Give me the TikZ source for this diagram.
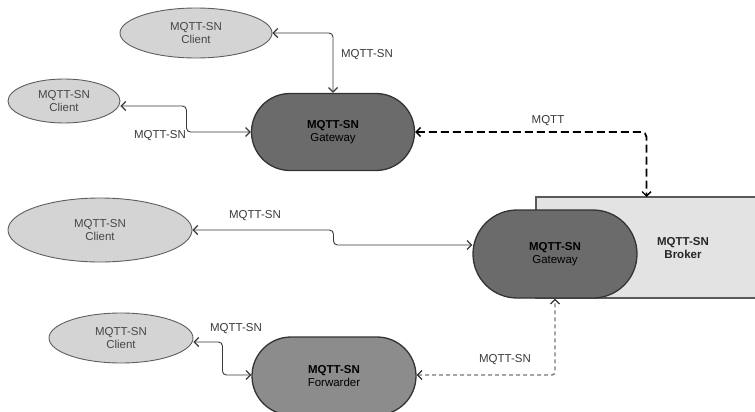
\documentclass[tikz,border=0pt]{standalone}
\usepackage{fontspec}
\setmainfont{Liberation Sans}
\usetikzlibrary{shapes.geometric,shapes.misc,arrows.meta}
\definecolor{clientfill}{HTML}{D4D4D4}
\definecolor{clientline}{HTML}{5E5E5E}
\definecolor{gwfill}{HTML}{6B6B6B}
\definecolor{fwfill}{HTML}{8C8C8C}
\definecolor{darkline}{HTML}{333333}
\definecolor{brokerfill}{HTML}{E3E3E3}
\definecolor{brokerline}{HTML}{5A5A5A}
\definecolor{labeltext}{HTML}{3A3A3A}
\definecolor{connline}{HTML}{3A3A3A}
\definecolor{dotline}{HTML}{777777}
\tikzset{
  opentip/.tip={Straight Barb[length=4.5pt,width=9pt,line width=1.2pt]},
  boldtip/.tip={Straight Barb[length=4.5pt,width=9pt,line width=1.4pt]},
  greytip/.tip={Straight Barb[length=4.5pt,width=9pt,line width=1.2pt,color=black!80]},
  base/.style={font=\fontsize{11.5}{12.5}\selectfont, align=center, inner sep=0pt},
  client/.style={base, ellipse, draw=clientline, line width=0.9pt, fill=clientfill, text=black!72},
  gwbox/.style={base, rounded rectangle, draw=darkline, line width=1.3pt, fill=gwfill, text=black},
  fwbox/.style={gwbox, fill=fwfill},
  brokerbox/.style={draw=brokerline, line width=1.1pt, fill=brokerfill},
  lbl/.style={font=\fontsize{11.5}{12.5}\selectfont, text=labeltext, inner sep=0pt},
  conn/.style={draw=connline, line width=0.9pt, rounded corners=4pt, opentip-opentip},
  mqttlink/.style={draw=black, line width=1.8pt, dash pattern=on 8pt off 4pt, rounded corners=5pt, boldtip-boldtip},
  fwlink/.style={draw=dotline, line width=1.4pt, dash pattern=on 4pt off 3pt, rounded corners=3pt, greytip-greytip},
}
\begin{document}
\begin{tikzpicture}[x=1pt,y=-1pt]
\useasboundingbox (0,0) rectangle (755,412);
\begin{scope}
\clip (0,0) rectangle (755,412);
% broker panel behind the lower gateway
\path[brokerbox] (536,197) rectangle (757,298);
\node[coordinate] (broker) at (646.5,197) {};
\node[base, font=\fontsize{11.5}{12.5}\selectfont\bfseries, text=black!85] (brokertext) at (683,248) {MQTT-SN\\Broker};

% clients
\node[client, minimum width=152pt, minimum height=50pt] (c1) at (196,33) {MQTT-SN\\Client};
\node[client, minimum width=112pt, minimum height=44pt] (c2) at (64,101) {MQTT-SN\\Client};
\node[client, minimum width=184pt, minimum height=64pt] (c3) at (100,230) {MQTT-SN\\Client};
\node[client, minimum width=144pt, minimum height=50pt] (c4) at (121,338) {MQTT-SN\\Client};

% gateways and forwarder
\node[gwbox, minimum width=163pt, minimum height=77pt] (gw1) at (333,132) {\textbf{MQTT-SN}\\Gateway};
\node[gwbox, minimum width=164pt, minimum height=88pt] (gw2) at (555,254) {\textbf{MQTT-SN}\\Gateway};
\node[fwbox, minimum width=164pt, minimum height=78pt] (fw) at (334,376) {\textbf{MQTT-SN}\\Forwarder};

% connectors
\draw[conn] (c1.east) -| (gw1.north);
\draw[conn] ([yshift=-5pt]c2.east) -- ++(66,0) |- (gw1.west);
\draw[conn] (c3.east) -- ++(141,0) |- ([yshift=9pt]gw2.west);
\draw[conn] ([yshift=-4pt]c4.east) -- ++(29,0) |- ([yshift=1pt]fw.west);
\draw[mqttlink] (gw1.east) -| (broker);
\draw[fwlink] ([yshift=1pt]fw.east) -| (gw2.south);

% labels
\node[lbl] (l1) at (367,55) {MQTT-SN};
\node[lbl] (l2) at (160,136) {MQTT-SN};
\node[lbl] (l3) at (548,121) {MQTT};
\node[lbl] (l4) at (255,216) {MQTT-SN};
\node[lbl] (l5) at (236,329) {MQTT-SN};
\node[lbl] (l6) at (505,360) {MQTT-SN};
\end{scope}
\end{tikzpicture}
\end{document}
